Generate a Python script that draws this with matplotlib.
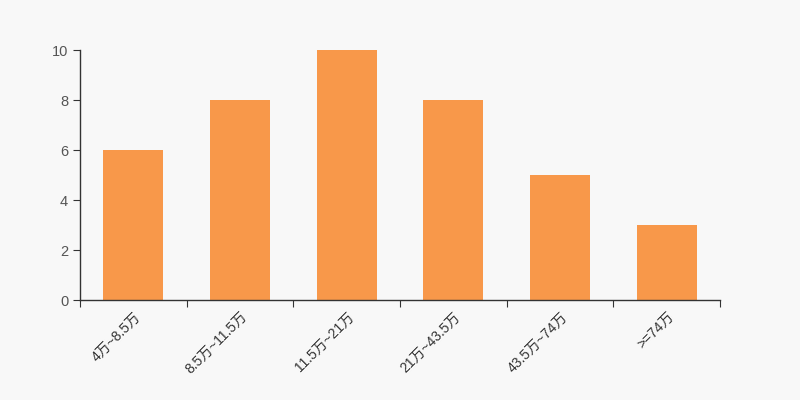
import matplotlib
matplotlib.use('Agg')
import matplotlib.pyplot as plt
import numpy as np

plt.rcParams['font.family'] = ['Liberation Sans', 'Noto Sans CJK SC', 'DejaVu Sans']

categories = ['4万~8.5万', '8.5万~11.5万', '11.5万~21万', '21万~43.5万', '43.5万~74万', '>=74万']
counts = [6, 8, 10, 8, 5, 3]
yticks = [0, 2, 4, 6, 8, 10]

bg = '#f8f8f8'
fig = plt.figure(figsize=(8, 4), dpi=100, facecolor=bg)
ax = fig.add_axes([0.1, 0.25, 0.8, 0.625], facecolor=bg)

x = np.arange(len(categories))
ax.bar(x, counts, width=0.56, color='#f8984a', edgecolor='none')

ax.set_xlim(-0.5, len(categories) - 0.5)
ax.set_ylim(0, 10)
ax.set_yticks(yticks)
ax.set_xticks(np.arange(len(categories) + 1) - 0.5, minor=False)
ax.set_xticklabels([''] * (len(categories) + 1))
ax.set_xticks(x, minor=True)
ax.set_xticklabels(categories, minor=True, rotation=45, ha='right', va='top',
                   rotation_mode='anchor', fontsize=10, color='#333333')
ax.tick_params(axis='x', which='minor', length=0, pad=7)
ax.tick_params(axis='x', which='major', length=5, color='#333333')
ax.tick_params(axis='y', length=5, color='#333333', labelcolor='#555555', labelsize=10.5)

for s in ['top', 'right']:
    ax.spines[s].set_visible(False)
for s in ['left', 'bottom']:
    ax.spines[s].set_color('#333333')
    ax.spines[s].set_linewidth(1)

fig.savefig('out.png', dpi=100, facecolor=bg)
